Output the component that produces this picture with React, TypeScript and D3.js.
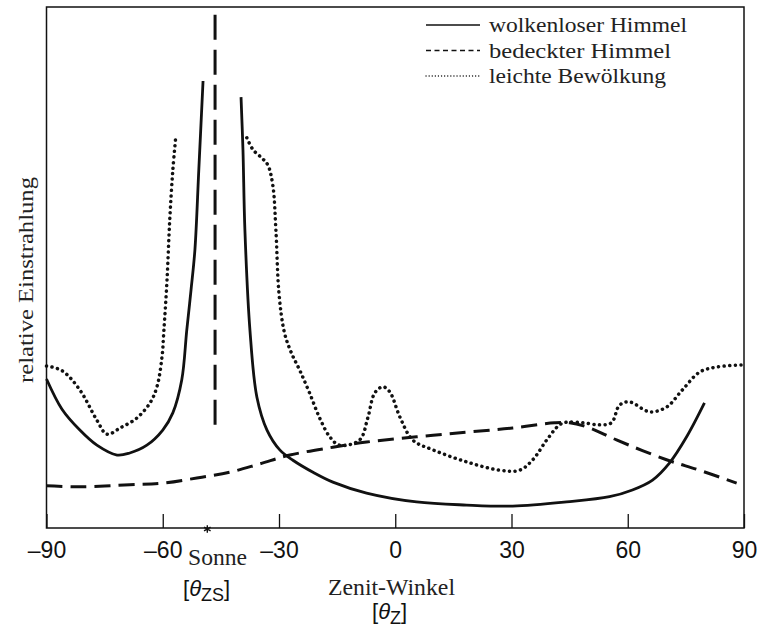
import React, {useEffect, useRef} from 'react';
import * as d3 from 'd3';

// zenith angle ticks
const tickValues = [-90, -60, -30, 0, 30, 60, 90];

// wolkenloser Himmel, left branch (up to the sun)
const clearLeftAngle = [-90, -86, -81.4, -77, -71.8, -68.5, -64.1, -60, -57.4, -55.1, -53.8, -52.7, -51.7, -50.7, -49.6];
const clearLeftValue = [28.6, 22.8, 18.8, 15.9, 14, 14.4, 15.9, 18.8, 22.1, 28.4, 38, 45.7, 53.4, 68.7, 85.8];

// wolkenloser Himmel, right branch
const clearRightAngle = [-39.8, -39.3, -38.8, -37.5, -35.7, -33.1, -29.8, -26.4, -21, -16.1, -7.4, 5.5, 18.4, 30.3, 44.2, 55.3, 61.2, 66.4, 70.8, 75.2, 79.8];
const clearRightValue = [82.7, 72.6, 57.2, 38, 25.1, 18.8, 15, 13, 10.6, 8.8, 6.7, 5, 4.4, 4.2, 5, 6, 7.3, 9.2, 12.5, 17.5, 24];

// bedeckter Himmel
const overcastAngle = [-90, -81.4, -68.5, -60, -51.2, -42.7, -35, -27.2, -16.1, -7.4, 5.5, 18.4, 30.3, 41.1, 45, 50.2, 57.1, 70, 78.5, 88.1];
const overcastValue = [8.1, 7.9, 8.3, 8.6, 9.6, 10.7, 12.3, 14, 15.5, 16.5, 17.5, 18.4, 19.2, 20.2, 20.2, 19.2, 16.9, 13.1, 11.1, 8.6];

// leichte Bewoelkung, left branch
const cloudyLeftAngle = [-90, -86, -81.4, -77, -74.4, -71, -66.7, -63.3, -61.5, -60.2, -59.7, -58.9, -58.2, -57.4, -56.6];
const cloudyLeftValue = [31.1, 30.2, 26.5, 20.7, 18, 19.2, 21.1, 24, 27.1, 32.8, 38, 47.6, 59.1, 68.7, 75.4];

// leichte Bewoelkung, right branch
const cloudyRightAngle = [-38.3, -36.7, -34.4, -32.9, -31.6, -30.8, -30, -28.6, -26.8, -24.6, -22.1, -19.5, -16.9, -14.4, -9.2, -7.1, -5.3, -3.2, -1.4, 1.2, 4.5, 9.7, 18.4, 26.9, 32.1, 35.5, 39.1, 42.4, 44.2, 48.4, 52.7, 55.8, 57.9, 60.5, 65.6, 70, 74.1, 78.5, 82.9, 89.9];
const cloudyRightValue = [74.9, 72.6, 71, 69.7, 65.8, 57.2, 45, 37.5, 33.6, 30.2, 25.9, 21.1, 17.5, 15.9, 16.9, 21.1, 25.9, 27.1, 26.1, 21.3, 16.9, 15, 12.7, 11.1, 11.1, 13.1, 16.9, 19.8, 20.3, 20.2, 19.8, 20.2, 23.6, 24.2, 22.3, 23.2, 26.5, 29.9, 30.9, 31.3];

// direct sun
const sunAngle = -46.5;
const sunMarkerAngle = -48.5;
const sunBeam = [19.4, 98.5];

const legendLabels = ['wolkenloser Himmel', 'bedeckter Himmel', 'leichte Bewölkung'];

const pairs = (a: number[], v: number[]) => a.map((d, i) => [d, v[i]] as [number, number]);

export default function App() {
  const ref = useRef<SVGSVGElement>(null);
  const width = 760,
    height = 627;
  const margin = {top: 7, right: 16, bottom: 99, left: 46.5};

  useEffect(() => {
    const svg = d3.select(ref.current);
    svg.selectAll('*').remove();

    const x = d3.scaleLinear().domain([-90, 90]).range([margin.left, width - margin.right]);
    const y = d3.scaleLinear().domain([0, 100]).range([height - margin.bottom, margin.top]);

    const line = d3
      .line<[number, number]>()
      .x(d => x(d[0]))
      .y(d => y(d[1]))
      .curve(d3.curveCatmullRom.alpha(0.5));

    // frame
    svg
      .append('rect')
      .attr('x', x(-90))
      .attr('y', y(100))
      .attr('width', x(90) - x(-90))
      .attr('height', y(0) - y(100))
      .attr('fill', 'none')
      .attr('stroke', '#111')
      .attr('stroke-width', 1.5);

    // x axis
    const ax = svg
      .append('g')
      .attr('transform', `translate(0, ${y(0)})`)
      .call(
        d3
          .axisBottom(x)
          .tickValues(tickValues)
          .tickSize(-14)
          .tickPadding(14)
          .tickFormat(d => (+d < 0 ? '\u2013' + Math.abs(+d) : String(d)))
      );
    ax.select('.domain').remove();
    ax.selectAll('line').attr('stroke', '#111').attr('stroke-width', 1.3);
    ax.selectAll('text')
      .attr('fill', '#111')
      .style('font-family', '"Liberation Sans", Arial, sans-serif')
      .style('font-size', '23px');

    const serif = '"Liberation Serif", "Times New Roman", serif';
    const sans = '"Liberation Sans", Arial, sans-serif';

    // sun marker on the axis
    svg
      .append('path')
      .attr('transform', `translate(${x(sunMarkerAngle)}, ${y(0) + 1})`)
      .attr('d', d3.symbol(d3.symbolAsterisk, 40)())
      .attr('fill', 'none')
      .attr('stroke', '#111')
      .attr('stroke-width', 1.4);

    svg
      .append('text')
      .attr('x', 188)
      .attr('y', 565)
      .attr('textLength', 59)
      .attr('lengthAdjust', 'spacingAndGlyphs')
      .style('font-family', serif)
      .style('font-size', '24px')
      .attr('fill', '#222')
      .text('Sonne');

    const zs = svg
      .append('text')
      .attr('x', 183)
      .attr('y', 596)
      .style('font-family', sans)
      .style('font-size', '22px')
      .attr('fill', '#111');
    zs.append('tspan').text('[');
    zs.append('tspan').style('font-style', 'italic').text('θ');
    zs.append('tspan').attr('dy', 5).style('font-size', '18px').text('ZS');
    zs.append('tspan').attr('dy', -5).text(']');

    svg
      .append('text')
      .attr('x', 328)
      .attr('y', 595)
      .attr('textLength', 127)
      .attr('lengthAdjust', 'spacingAndGlyphs')
      .style('font-family', serif)
      .style('font-size', '24px')
      .attr('fill', '#222')
      .text('Zenit-Winkel');

    const zz = svg
      .append('text')
      .attr('x', 372)
      .attr('y', 619)
      .style('font-family', sans)
      .style('font-size', '22px')
      .attr('fill', '#111');
    zz.append('tspan').text('[');
    zz.append('tspan').style('font-style', 'italic').text('θ');
    zz.append('tspan').attr('dy', 5).style('font-size', '18px').text('Z');
    zz.append('tspan').attr('dy', -5).text(']');

    // y label
    svg
      .append('text')
      .attr('transform', `translate(33, 280) rotate(-90)`)
      .attr('text-anchor', 'middle')
      .attr('textLength', 206)
      .attr('lengthAdjust', 'spacingAndGlyphs')
      .style('font-family', serif)
      .style('font-size', '22px')
      .attr('fill', '#222')
      .text('relative Einstrahlung');

    // curves
    const solid = {dash: null as string | null, width: 2.8, cap: 'butt'};
    const dashed = {dash: '16 8', width: 3, cap: 'butt'};
    const dotted = {dash: '0.1 5.5', width: 3.5, cap: 'round'};

    const series = [
      {d: pairs(clearLeftAngle, clearLeftValue), s: solid},
      {d: pairs(clearRightAngle, clearRightValue), s: solid},
      {d: pairs(overcastAngle, overcastValue), s: dashed},
      {d: pairs(cloudyLeftAngle, cloudyLeftValue), s: dotted},
      {d: pairs(cloudyRightAngle, cloudyRightValue), s: dotted},
    ];
    series.forEach(({d, s}) => {
      svg
        .append('path')
        .attr('d', line(d))
        .attr('fill', 'none')
        .attr('stroke', '#111')
        .attr('stroke-width', s.width)
        .attr('stroke-linecap', s.cap)
        .attr('stroke-dasharray', s.dash);
    });

    // sun beam, long dashes
    svg
      .append('line')
      .attr('x1', x(sunAngle))
      .attr('x2', x(sunAngle))
      .attr('y1', y(sunBeam[1]))
      .attr('y2', y(sunBeam[0]))
      .attr('stroke', '#111')
      .attr('stroke-width', 3)
      .attr('stroke-dasharray', '25 10');

    // legend
    const legendStyles = [
      {dash: null as string | null, width: 1.6, cap: 'butt'},
      {dash: '5 3.5', width: 1.6, cap: 'butt'},
      {dash: '0.1 3', width: 1.3, cap: 'round'},
    ];
    const legendLengths = [198, 182, 177];
    legendLabels.forEach((label, i) => {
      const ly = 25 + i * 25.5;
      svg
        .append('line')
        .attr('x1', 426)
        .attr('x2', 480)
        .attr('y1', ly)
        .attr('y2', ly)
        .attr('stroke', '#111')
        .attr('stroke-width', legendStyles[i].width)
        .attr('stroke-linecap', legendStyles[i].cap)
        .attr('stroke-dasharray', legendStyles[i].dash);
      svg
        .append('text')
        .attr('x', 489)
        .attr('y', ly + 7)
        .attr('textLength', legendLengths[i])
        .attr('lengthAdjust', 'spacingAndGlyphs')
        .style('font-family', serif)
        .style('font-size', '22px')
        .attr('fill', '#222')
        .text(label);
    });
  }, []);

  return (
    <svg
      ref={ref}
      width={width}
      height={height}
      style={{position: 'absolute', left: 0, top: 0, background: '#fff'}}
    />
  );
}
